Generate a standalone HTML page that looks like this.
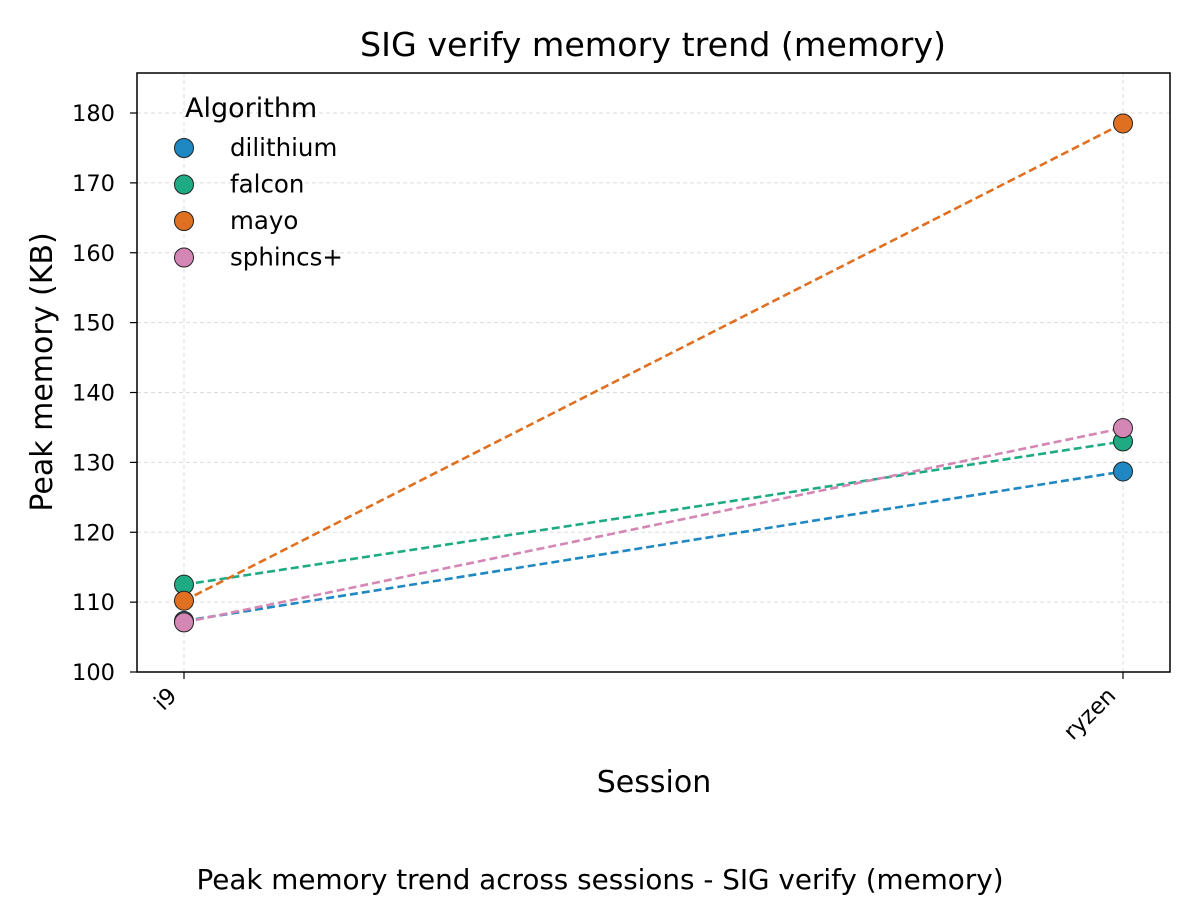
<!DOCTYPE html>
<html><head><meta charset="utf-8"><style>
body{margin:0;background:#fff;}
svg text{font-family:"DejaVu Sans","Liberation Sans",sans-serif;}
</style></head><body>
<svg id="chart" width="1200" height="900" viewBox="0 0 1200 900">
<rect width="1200" height="900" fill="#fff"/>
<g id="grid"></g>
<g id="series"></g>
<rect x="137" y="73" width="1033" height="599" fill="none" stroke="#000" stroke-width="1.5"/>
<g id="axes"></g>
<text x="653" y="56" font-size="33.3" text-anchor="middle">SIG verify memory trend (memory)</text>
<text x="654" y="792" font-size="30" text-anchor="middle">Session</text>
<text transform="translate(52,372) rotate(-90)" font-size="30" text-anchor="middle">Peak memory (KB)</text>
<text x="600" y="889" font-size="27.8" text-anchor="middle">Peak memory trend across sessions - SIG verify (memory)</text>
<g id="legend"></g>
</svg>
<script>
const categories = ["i9", "ryzen"];
const seriesNames = ["dilithium", "falcon", "mayo", "sphincs+"];
const dilithium = [107.3, 128.7];
const falcon = [112.5, 133.0];
const mayo = [110.2, 178.5];
const sphincs = [107.1, 134.9];
const yTicks = [100, 110, 120, 130, 140, 150, 160, 170, 180];
const colors = ["#1f87c2", "#1eab84", "#e07021", "#d486b4"];
const values = [dilithium, falcon, mayo, sphincs];
const NS = "http://www.w3.org/2000/svg";
function xs(i){ return 184 + i * (1123 - 184) / (categories.length - 1); }
function ys(v){ return 672 - (v - 100) * 6.9875; }
function mk(tag, attrs, parent){ const e = document.createElementNS(NS, tag); for (const k in attrs) e.setAttribute(k, attrs[k]); parent.appendChild(e); return e; }
const grid = document.getElementById("grid"), axes = document.getElementById("axes"), ser = document.getElementById("series"), leg = document.getElementById("legend");
yTicks.forEach(t => {
  const y = ys(t);
  const g = mk("line", {x1:137, x2:1170, y1:y, y2:y, stroke:"#ddd", "stroke-dasharray":"4,3", "stroke-width":1}, grid);
  
  
  const tk = mk("line", {x1:130, x2:137, y1:y, y2:y, stroke:"#000", "stroke-width":1.2}, axes);
  
  
  const tx = mk("text", {x:115, y:y+8, "font-size":22.5, "text-anchor":"end"}, axes);
  tx.textContent = t;
  
  
});
categories.forEach((c, i) => {
  const x = xs(i);
  const g = mk("line", {x1:x, x2:x, y1:73, y2:672, stroke:"#ddd", "stroke-dasharray":"4,3", "stroke-width":1}, grid);
  
  
  const tk = mk("line", {x1:x, x2:x, y1:672, y2:679, stroke:"#000", "stroke-width":1.2}, axes);
  
  
  const tx = mk("text", {x:0, y:0, "font-size":22.5, "text-anchor":"end", transform:`translate(${x-6},${697}) rotate(-45)`}, axes);
  tx.textContent = c;
  
  
});
values.forEach((vals, s) => {
  const pts = vals.map((v, i) => xs(i) + "," + ys(v)).join(" ");
  const l = mk("polyline", {points:pts, fill:"none", stroke:colors[s], "stroke-width":2.6, "stroke-dasharray":"8,4"}, ser);
  
  
});
values.forEach((vals, s) => {
  vals.forEach((v, i) => {
    const c = mk("circle", {cx:xs(i), cy:ys(v), r:9.5, fill:colors[s], stroke:"#222", "stroke-width":1}, ser);
    
    
  });
});
const lt = mk("text", {x:185, y:117, "font-size":27}, leg);
lt.textContent = "Algorithm";


seriesNames.forEach((n, s) => {
  const y = 148 + s * 36.5;
  const c = mk("circle", {cx:184, cy:y, r:9.5, fill:colors[s], stroke:"#222", "stroke-width":1}, leg);
  
  
  const t = mk("text", {x:230, y:y+8, "font-size":24.5}, leg);
  t.textContent = n;
  
  
});
</script>
</body></html>
